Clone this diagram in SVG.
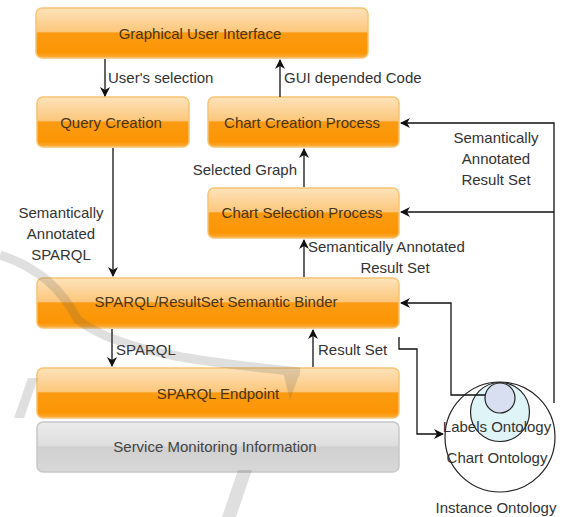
<svg xmlns="http://www.w3.org/2000/svg" width="566" height="517" viewBox="0 0 566 517">
  <defs>
    <linearGradient id="orange" x1="0" y1="0" x2="0" y2="1">
      <stop offset="0" stop-color="#fde3bb"/>
      <stop offset="0.47" stop-color="#fcc77c"/>
      <stop offset="0.5" stop-color="#fb9b12"/>
      <stop offset="0.9" stop-color="#fb9504"/>
      <stop offset="1" stop-color="#fcb146"/>
    </linearGradient>
    <linearGradient id="grey" x1="0" y1="0" x2="0" y2="1">
      <stop offset="0" stop-color="#ececec"/>
      <stop offset="0.47" stop-color="#dedede"/>
      <stop offset="0.5" stop-color="#d0d0d0"/>
      <stop offset="1" stop-color="#d8d8d8"/>
    </linearGradient>
    <marker id="arrow" viewBox="0 0 10 10" refX="9" refY="5" markerWidth="10" markerHeight="10" markerUnits="userSpaceOnUse" orient="auto">
      <path d="M0,0 L10,5 L0,10 L3,5 z" fill="#111"/>
    </marker>
  </defs>
  <style>
    .box { fill: url(#orange); stroke: #f6c472; stroke-width: 1.5; }
    .gbox { fill: url(#grey); stroke: #c8c8c8; stroke-width: 1.5; }
    .btxt { font-family: "Liberation Sans", Arial, sans-serif; font-size: 15px; fill: #4a3412; text-anchor: middle; }
    .lbl { font-family: "Liberation Sans", Arial, sans-serif; font-size: 15px; fill: #333; }
    .mid { text-anchor: middle; }
    .end { text-anchor: end; }
    .con { fill: none; stroke: #111; stroke-width: 1.3; }
    .circ { stroke: #222; stroke-width: 1.2; }
  </style>

  <rect width="566" height="517" fill="#fff"/>

  <!-- nodes -->
  <g id="gui">
    <rect class="box" x="36" y="8" width="332" height="50" rx="6"/>
    <text class="btxt" x="200" y="39">Graphical User Interface</text>
  </g>
  <g id="query-creation">
    <rect class="box" x="37" y="97" width="152" height="50" rx="6"/>
    <text class="btxt" x="111" y="128">Query Creation</text>
  </g>
  <g id="chart-creation">
    <rect class="box" x="208" y="97" width="191" height="50" rx="6"/>
    <text class="btxt" x="302" y="128">Chart Creation Process</text>
  </g>
  <g id="chart-selection">
    <rect class="box" x="208" y="188" width="191" height="50" rx="6"/>
    <text class="btxt" x="302" y="218">Chart Selection Process</text>
  </g>
  <g id="binder">
    <rect class="box" x="37" y="278" width="362" height="50" rx="6"/>
    <text class="btxt" x="216" y="307">SPARQL/ResultSet Semantic Binder</text>
  </g>
  <g id="endpoint">
    <rect class="box" x="37" y="368" width="362" height="50" rx="6"/>
    <text class="btxt" x="218" y="399">SPARQL Endpoint</text>
  </g>
  <g id="monitoring">
    <rect class="gbox" x="37" y="422" width="362" height="50" rx="6"/>
    <text class="btxt" x="215" y="452" style="fill:#444">Service Monitoring Information</text>
  </g>
  <g id="ontologies">
    <circle class="circ" cx="500" cy="437" r="55" fill="#fff"/>
    <circle class="circ" cx="500" cy="412" r="29.5" fill="#dff4f7"/>
    <circle class="circ" cx="500" cy="398" r="15" fill="#d8dff0"/>
    <text class="lbl mid" x="497" y="432">Labels Ontology</text>
    <text class="lbl mid" x="497" y="463">Chart Ontology</text>
    <text class="lbl mid" x="496" y="513">Instance Ontology</text>
  </g>

  <!-- connectors -->
  <g id="connectors">
    <path class="con" d="M105,59 V96" marker-end="url(#arrow)"/>
    <text class="lbl" x="108" y="83">User's selection</text>
    <path class="con" d="M280,97 V60" marker-end="url(#arrow)"/>
    <text class="lbl" x="284" y="83">GUI depended Code</text>

    <path class="con" d="M113,148 V276" marker-end="url(#arrow)"/>
    <text class="lbl mid" x="61" y="218">Semantically</text>
    <text class="lbl mid" x="61" y="239">Annotated</text>
    <text class="lbl mid" x="61" y="260">SPARQL</text>

    <path class="con" d="M304,187 V149" marker-end="url(#arrow)"/>
    <text class="lbl end" x="297" y="175">Selected Graph</text>

    <path class="con" d="M304,277 V240" marker-end="url(#arrow)"/>
    <text class="lbl" x="308" y="252">Semantically Annotated</text>
    <text class="lbl mid" x="395" y="273">Result Set</text>

    <path class="con" d="M554,403 V123 H401" marker-end="url(#arrow)"/>
    <path class="con" d="M554,212 H401" marker-end="url(#arrow)"/>
    <text class="lbl mid" x="496" y="143">Semantically</text>
    <text class="lbl mid" x="496" y="164">Annotated</text>
    <text class="lbl mid" x="496" y="185">Result Set</text>

    <path class="con" d="M485,395 H451 V303 H401" marker-end="url(#arrow)"/>
    <path class="con" d="M399,337 V349 H417 V434 H443" marker-end="url(#arrow)"/>

    <path class="con" d="M112,329 V366" marker-end="url(#arrow)"/>
    <text class="lbl" x="116" y="355">SPARQL</text>
    <path class="con" d="M313,367 V330" marker-end="url(#arrow)"/>
    <text class="lbl" x="318" y="355">Result Set</text>
  </g>

  <!-- faint publisher swoosh behind the lower part -->
  <g id="watermark" opacity="0.18" fill="#555" stroke="none">
    <path d="M0,255 C40,268 62,290 78,320 C120,352 200,362 300,372" fill="none" stroke="#555" stroke-width="9"/>
    <path d="M283,372 L300,372 L290,400 Z"/>
    <path d="M28,378 L38,378 L24,418 L14,418 Z"/>
    <path d="M238,470 L252,470 L236,517 L222,517 Z"/>
  </g>
</svg>
